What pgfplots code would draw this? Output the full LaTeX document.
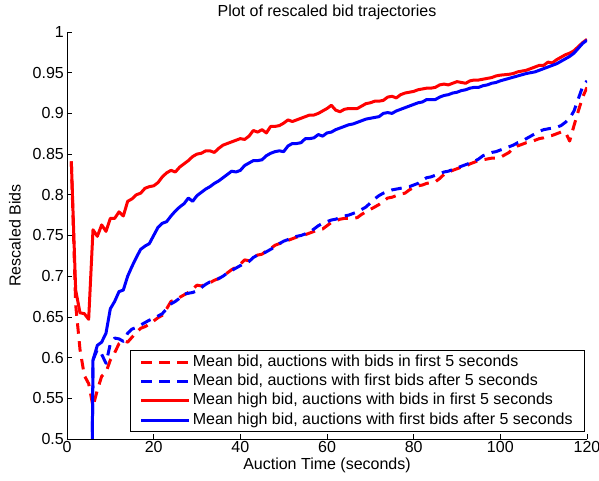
\documentclass[border=0pt]{standalone}
\usepackage{pgfplots}
\usepackage{pgfplotstable}
\pgfplotsset{compat=1.18}
\usepackage{fontspec}
\setmainfont{Liberation Sans}

% Mean bid, auctions with bids in first 5 seconds
\pgfplotstableread{
t v
1 0.841
2 0.665
3 0.610
4 0.578
5 0.568
6 0.540
7 0.560
8 0.577
9 0.582
10 0.597
11 0.606
12 0.617
13 0.621
14 0.619
15 0.625
16 0.631
17 0.636
18 0.638
19 0.641
20 0.645
21 0.649
22 0.652
23 0.660
24 0.669
25 0.671
26 0.674
27 0.677
28 0.680
29 0.684
30 0.689
31 0.688
32 0.690
33 0.692
34 0.695
35 0.697
36 0.701
37 0.704
38 0.708
39 0.711
40 0.715
41 0.720
42 0.719
43 0.723
44 0.726
45 0.727
46 0.731
47 0.734
48 0.738
49 0.740
50 0.742
51 0.744
52 0.746
53 0.748
54 0.749
55 0.751
56 0.753
57 0.755
58 0.757
59 0.758
60 0.762
61 0.766
62 0.768
63 0.770
64 0.771
65 0.771
66 0.771
67 0.772
68 0.776
69 0.779
70 0.782
71 0.785
72 0.788
73 0.792
74 0.796
75 0.797
76 0.799
77 0.801
78 0.802
79 0.806
80 0.809
81 0.811
82 0.812
83 0.814
84 0.815
85 0.816
86 0.820
87 0.825
88 0.828
89 0.830
90 0.832
91 0.834
92 0.835
93 0.838
94 0.840
95 0.842
96 0.843
97 0.844
98 0.845
99 0.845
100 0.846
101 0.849
102 0.852
103 0.857
104 0.860
105 0.862
106 0.864
107 0.865
108 0.867
109 0.869
110 0.870
111 0.872
112 0.873
113 0.875
114 0.877
115 0.877
116 0.866
117 0.885
118 0.903
119 0.920
120 0.932
}\earlymean

% Mean bid, auctions with first bids after 5 seconds
\pgfplotstableread{
t v
5 0.000
6 0.597
7 0.610
8 0.604
9 0.593
10 0.617
11 0.624
12 0.623
13 0.620
14 0.630
15 0.635
16 0.637
17 0.640
18 0.643
19 0.646
20 0.648
21 0.651
22 0.654
23 0.660
24 0.666
25 0.669
26 0.673
27 0.678
28 0.679
29 0.680
30 0.682
31 0.686
32 0.690
33 0.693
34 0.695
35 0.697
36 0.700
37 0.704
38 0.707
39 0.710
40 0.713
41 0.716
42 0.718
43 0.723
44 0.726
45 0.727
46 0.730
47 0.733
48 0.736
49 0.740
50 0.743
51 0.745
52 0.747
53 0.749
54 0.750
55 0.752
56 0.754
57 0.758
58 0.762
59 0.765
60 0.767
61 0.769
62 0.770
63 0.772
64 0.774
65 0.775
66 0.777
67 0.779
68 0.782
69 0.785
70 0.790
71 0.795
72 0.799
73 0.802
74 0.804
75 0.806
76 0.807
77 0.808
78 0.809
79 0.810
80 0.812
81 0.814
82 0.818
83 0.821
84 0.822
85 0.824
86 0.826
87 0.828
88 0.829
89 0.831
90 0.833
91 0.835
92 0.837
93 0.839
94 0.841
95 0.844
96 0.848
97 0.850
98 0.852
99 0.853
100 0.855
101 0.857
102 0.859
103 0.861
104 0.864
105 0.866
106 0.869
107 0.872
108 0.875
109 0.878
110 0.880
111 0.881
112 0.882
113 0.883
114 0.885
115 0.889
116 0.894
117 0.903
118 0.918
119 0.933
120 0.940
}\latemean

% Mean high bid, auctions with bids in first 5 seconds
\pgfplotstableread{
t v
1 0.841
2 0.683
3 0.655
4 0.654
5 0.647
6 0.757
7 0.749
8 0.763
9 0.755
10 0.771
11 0.771
12 0.779
13 0.774
14 0.792
15 0.795
16 0.800
17 0.802
18 0.808
19 0.810
20 0.811
21 0.815
22 0.822
23 0.827
24 0.830
25 0.828
26 0.834
27 0.838
28 0.842
29 0.847
30 0.850
31 0.851
32 0.854
33 0.854
34 0.852
35 0.857
36 0.861
37 0.863
38 0.865
39 0.867
40 0.869
41 0.868
42 0.872
43 0.879
44 0.877
45 0.880
46 0.876
47 0.884
48 0.884
49 0.885
50 0.888
51 0.892
52 0.890
53 0.892
54 0.894
55 0.896
56 0.898
57 0.898
58 0.900
59 0.903
60 0.906
61 0.910
62 0.904
63 0.902
64 0.905
65 0.906
66 0.906
67 0.906
68 0.909
69 0.912
70 0.913
71 0.915
72 0.915
73 0.916
74 0.920
75 0.921
76 0.919
77 0.923
78 0.925
79 0.926
80 0.927
81 0.929
82 0.930
83 0.931
84 0.931
85 0.932
86 0.935
87 0.936
88 0.935
89 0.937
90 0.939
91 0.938
92 0.937
93 0.940
94 0.941
95 0.941
96 0.942
97 0.943
98 0.944
99 0.946
100 0.947
102 0.948
103 0.949
104 0.951
106 0.953
108 0.957
109 0.959
110 0.959
111 0.963
112 0.962
113 0.966
114 0.969
115 0.972
116 0.974
117 0.977
118 0.982
119 0.987
120 0.991
}\earlyhigh

% Mean high bid, auctions with first bids after 5 seconds
\pgfplotstableread{
t v
5 0.000
6 0.597
7 0.615
8 0.619
9 0.630
10 0.660
11 0.669
12 0.681
13 0.683
14 0.700
15 0.712
16 0.723
17 0.733
18 0.737
19 0.740
20 0.750
21 0.760
22 0.765
23 0.767
24 0.774
25 0.780
26 0.785
27 0.789
28 0.796
29 0.792
30 0.799
31 0.803
32 0.807
33 0.810
34 0.814
35 0.817
36 0.821
37 0.825
38 0.829
39 0.828
40 0.830
41 0.836
42 0.839
43 0.842
44 0.842
45 0.843
46 0.848
47 0.851
48 0.853
49 0.854
50 0.853
51 0.860
52 0.863
53 0.863
54 0.864
55 0.869
56 0.869
57 0.870
58 0.874
59 0.872
60 0.876
61 0.877
62 0.880
63 0.882
64 0.884
65 0.886
66 0.887
67 0.889
68 0.891
69 0.893
70 0.894
71 0.895
72 0.896
73 0.900
74 0.901
75 0.900
76 0.903
77 0.905
78 0.907
79 0.909
80 0.911
81 0.913
82 0.914
83 0.917
84 0.917
85 0.917
86 0.920
87 0.922
88 0.923
89 0.925
90 0.926
91 0.928
92 0.929
93 0.931
94 0.932
95 0.932
96 0.934
97 0.935
98 0.937
99 0.938
100 0.940
102 0.943
104 0.946
106 0.949
108 0.951
110 0.955
112 0.959
113 0.961
114 0.964
115 0.967
116 0.970
117 0.974
118 0.980
119 0.986
120 0.990
}\latehigh

\newcommand{\chartfont}{\fontsize{16}{19}\selectfont}

\begin{document}
\begin{tikzpicture}
\begin{axis}[
  at={(0,0)}, anchor=south west,
  scale only axis, width=520pt, height=407pt,
  xmin=0, xmax=120, ymin=0.5, ymax=1,
  axis x line*=bottom, axis y line*=left,
  axis line style={-, line width=0.6pt},
  tick align=inside, major tick length=5pt,
  tick style={black, line width=0.6pt},
  xtick={0,20,40,60,80,100,120},
  xticklabels={0,20,40,60,80,100,120},
  ytick={0.5,0.55,0.6,0.65,0.7,0.75,0.8,0.85,0.9,0.95,1},
  yticklabels={0.5,0.55,0.6,0.65,0.7,0.75,0.8,0.85,0.9,0.95,1},
  ticklabel style={font=\chartfont},
  xticklabel style={inner sep=2pt},
  yticklabel style={inner sep=3pt},
  every axis title shift=0pt,
  title={Plot of rescaled bid trajectories},
  title style={font=\chartfont, at={(axis description cs:0.5,1.047)}, anchor=center},
  xlabel={Auction Time (seconds)},
  xlabel style={font=\chartfont, at={(axis description cs:0.5,-0.066)}, anchor=center},
  ylabel={Rescaled Bids},
  ylabel style={font=\chartfont, at={(axis description cs:-0.1,0.5)}, anchor=center},
  legend cell align=left,
  legend image code/.code={\draw[#1] (0pt,0pt) -- (48pt,0pt);},
  legend style={at={(0.996,0.017)}, anchor=south east,
    draw=black, line width=0.6pt, font=\chartfont,
    inner xsep=10pt, inner ysep=2pt, row sep=0.5pt,
    nodes={inner sep=2pt, text height=11.5pt, text depth=3.4pt}},
]
\addplot[red, line width=3pt, line join=round, dash pattern=on 10.5pt off 7.5pt] table[x=t, y=v] {\earlymean};
\addlegendentry{Mean bid, auctions with bids in first 5 seconds}
\addplot[blue, line width=3pt, line join=round, dash pattern=on 10.5pt off 7.5pt] table[x=t, y=v] {\latemean};
\addlegendentry{Mean bid, auctions with first bids after 5 seconds}
\addplot[red, line width=3pt, line join=round] table[x=t, y=v] {\earlyhigh};
\addlegendentry{Mean high bid, auctions with bids in first 5 seconds}
\addplot[blue, line width=3pt, line join=round] table[x=t, y=v] {\latehigh};
\addlegendentry{Mean high bid, auctions with first bids after 5 seconds}
\end{axis}
\pgfresetboundingbox
\path (-67pt,-42pt) rectangle (532pt,439pt);
\end{tikzpicture}
\end{document}
